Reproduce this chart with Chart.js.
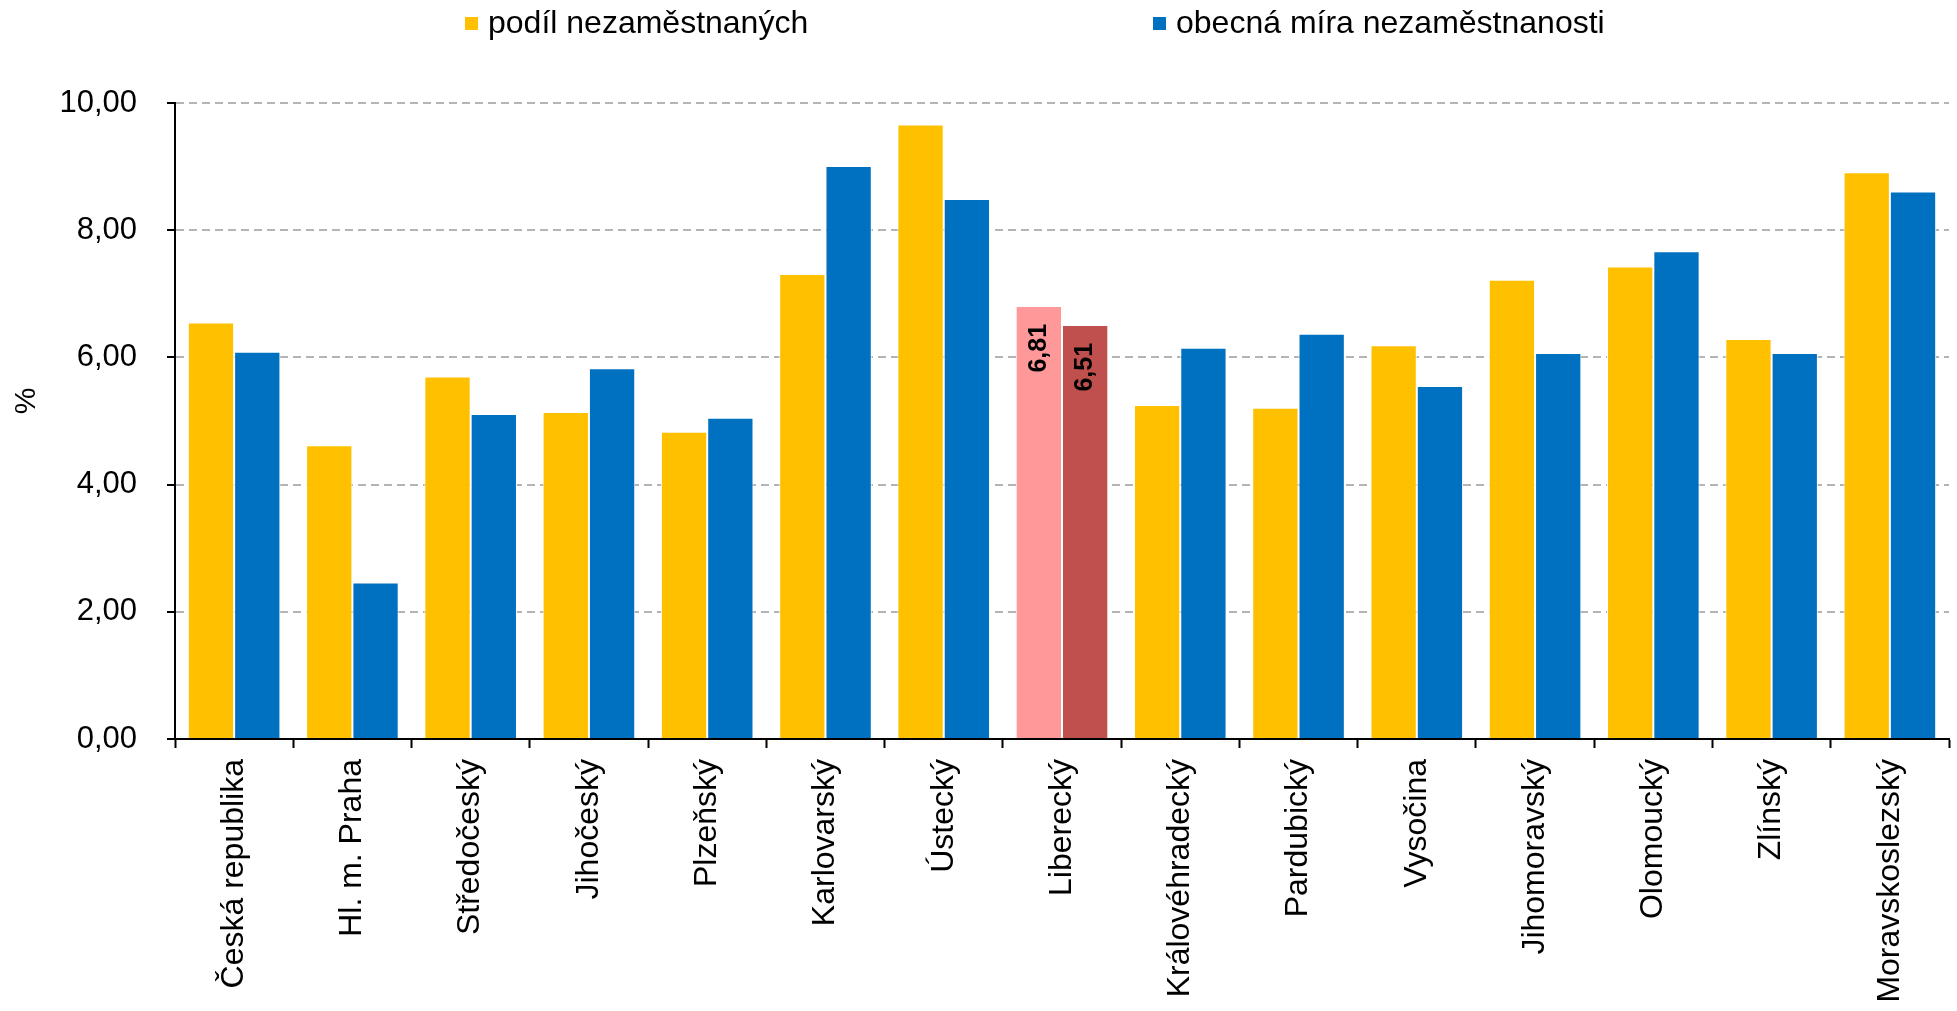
<!DOCTYPE html>
<html>
<head>
<meta charset="utf-8">
<script src="https://cdn.jsdelivr.net/npm/chart.js@4/dist/chart.umd.min.js"></script>
<style>
  body { margin: 0; background: #fff; }
  #wrap { width: 1957px; height: 1011px; }
</style>
</head>
<body>
<div id="wrap"><canvas id="bar-chart" width="1957" height="1011"></canvas></div>
<script>
// regions (kraje) on the x axis
const categories = [
    'Česká republika', 'Hl. m. Praha', 'Středočeský', 'Jihočeský', 'Plzeňský',
    'Karlovarský', 'Ústecký', 'Liberecký', 'Královéhradecký', 'Pardubický',
    'Vysočina', 'Jihomoravský', 'Olomoucký', 'Zlínský', 'Moravskoslezský'
];
const seriesNames = ['podíl nezaměstnaných', 'obecná míra nezaměstnanosti'];
// podíl nezaměstnaných (%)
const podilValues = [6.55, 4.62, 5.70, 5.14, 4.83, 7.31, 9.66, 6.81, 5.25, 5.21, 6.19, 7.22, 7.43, 6.29, 8.91];
// obecná míra nezaměstnanosti (%)
const obecnaValues = [6.09, 2.46, 5.11, 5.83, 5.05, 9.01, 8.49, 6.51, 6.15, 6.37, 5.55, 6.07, 7.67, 6.07, 8.61];
const yTicks = [0, 2, 4, 6, 8, 10];
const yTitle = '%';
// Liberecký is highlighted and labelled
const highlightIndex = 7;

const FONT = "'Liberation Sans', Arial, sans-serif";
const colors = ['#FFC000', '#0070C0'];
const highlightColors = ['#FF9999', '#C0504D'];

const fmt = v => v.toFixed(2).replace('.', ',');

// legend and axis title drawn by hand so they sit where the original has them
const legendPlugin = {
    id: 'wideLegend',
    afterDraw(chart) {
        const ctx = chart.ctx;
        const xs = [465, 1153];
        ctx.save();
        ctx.font = '32px ' + FONT;
        ctx.textBaseline = 'middle';
        seriesNames.forEach((name, i) => {
            ctx.fillStyle = colors[i];
            ctx.fillRect(xs[i], 17, 13, 13);
            ctx.fillStyle = '#000';
            ctx.fillText(name, xs[i] + 23, 24);
        });
        // "%" title, rotated
        ctx.font = '30px ' + FONT;
        ctx.textAlign = 'center';
        ctx.translate(27, 401);
        ctx.rotate(-Math.PI / 2);
        ctx.fillText(yTitle, 0, 0);
        ctx.restore();
    }
};

// rotated value labels inside the highlighted bars
const valueLabelPlugin = {
    id: 'valueLabels',
    afterDatasetsDraw(chart) {
        const ctx = chart.ctx;
        ctx.save();
        ctx.font = 'bold 25px ' + FONT;
        ctx.fillStyle = '#000';
        ctx.textAlign = 'right';
        ctx.textBaseline = 'middle';
        chart.data.datasets.forEach((ds, i) => {
            const bar = chart.getDatasetMeta(i).data[highlightIndex];
            ctx.save();
            ctx.translate(bar.x, bar.y + 18);
            ctx.rotate(-Math.PI / 2);
            ctx.fillText(fmt(ds.data[highlightIndex]), 0, 0);
            ctx.restore();
        });
        ctx.restore();
    }
};

function barColor(i) {
    return c => c.dataIndex === highlightIndex ? highlightColors[i] : colors[i];
}

const chart = new Chart(document.getElementById('bar-chart'), {
    type: 'bar',
    data: {
        labels: categories,
        datasets: [
            { label: seriesNames[0], data: podilValues, backgroundColor: barColor(0) },
            { label: seriesNames[1], data: obecnaValues, backgroundColor: barColor(1) }
        ]
    },
    options: {
        responsive: false,
        animation: false,
        devicePixelRatio: 1,
        layout: { padding: { top: 103, right: 8, left: 0, bottom: 0 } },
        datasets: {
            bar: {
                categoryPercentage: 0.783,
                barPercentage: 1,
                borderWidth: 1,
                borderColor: '#fff'
            }
        },
        plugins: {
            legend: { display: false },
            tooltip: { enabled: false }
        },
        scales: {
            x: {
                grid: {
                    offset: true,
                    drawOnChartArea: false,
                    drawTicks: true,
                    tickLength: 9,
                    tickColor: '#000',
                    tickWidth: 2
                },
                border: { color: '#000', width: 2 },
                ticks: {
                    color: '#000',
                    font: { family: FONT, size: 32 },
                    minRotation: 90,
                    maxRotation: 90,
                    autoSkip: false,
                    padding: 11
                },
                afterFit(scale) { scale.height = 272; }
            },
            y: {
                min: 0,
                max: 10,
                afterBuildTicks(scale) {
                    scale.ticks = yTicks.map(v => ({ value: v }));
                },
                grid: {
                    color: c => c.tick && c.tick.value === 0 ? 'rgba(0,0,0,0)' : '#B4B4B4',
                    lineWidth: 2,
                    tickLength: 8,
                    tickColor: '#000',
                    tickWidth: 2,
                    tickBorderDash: []
                },
                border: { color: '#000', width: 2, dash: [8, 5] },
                ticks: {
                    color: '#000',
                    font: { family: FONT, size: 31 },
                    padding: 30,
                    callback: v => fmt(v)
                },
                afterFit(scale) { scale.width = 175; }
            }
        }
    },
    plugins: [legendPlugin, valueLabelPlugin]
});
</script>
</body>
</html>
